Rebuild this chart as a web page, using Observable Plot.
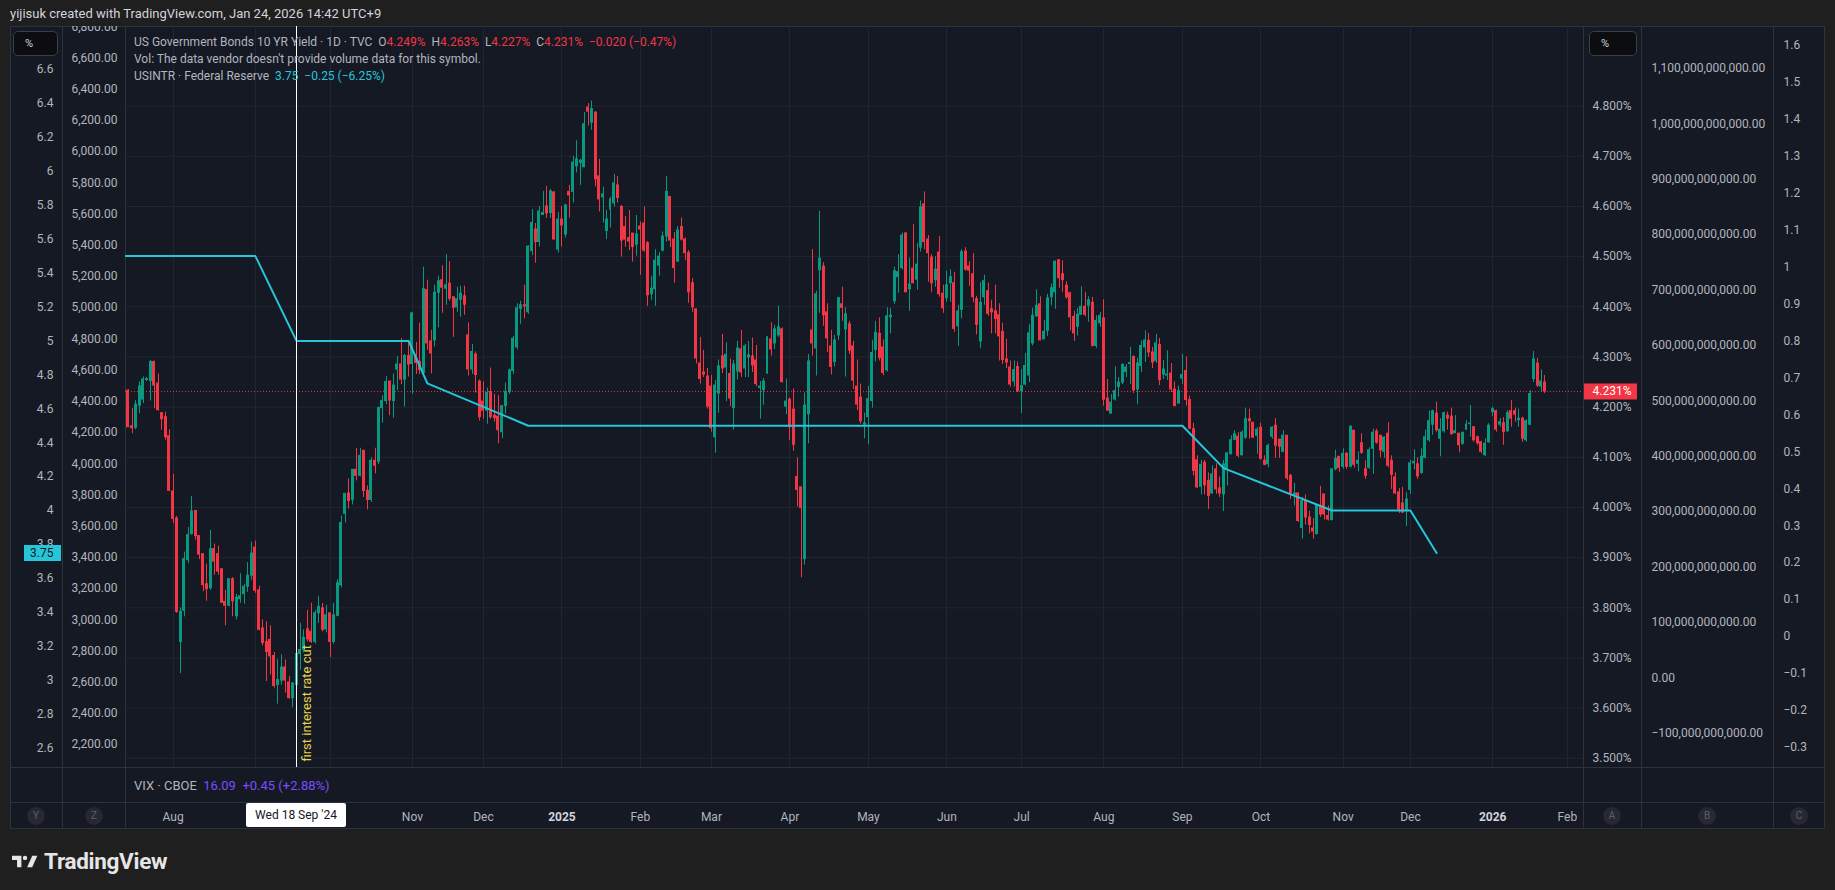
<!DOCTYPE html>
<html>
<head>
<meta charset="utf-8">
<script src="https://cdn.jsdelivr.net/npm/d3@7"></script>
<script src="https://cdn.jsdelivr.net/npm/@observablehq/plot@0.6"></script>
<style>
  html, body { margin: 0; padding: 0; background: #1f1f1f; }
  #root { position: relative; width: 1835px; height: 890px; overflow: hidden; font-family: Roboto, "Noto Sans", sans-serif; }
  .abs { position: absolute; }
  .frame { left: 10px; top: 26px; width: 1815px; height: 803px; background: #151924; box-sizing: border-box; border: 1px solid #2e323d; }
  .vdiv { width: 1px; top: 26px; height: 803px; background: #2e323d; }
  .hdiv { height: 1px; left: 10px; width: 1815px; background: #2e323d; }
  .hdr { left: 10px; top: 6px; font-size: 13px; color: #d1d4dc; white-space: nowrap; }
  .leg { left: 134px; font-size: 12px; color: #b2b5be; white-space: nowrap; line-height: 17px; }
  .red { color: #f23645; }
  .cy { color: #26c6da; }
  .vio { color: #7b4dff; }
  .pct { width: 45px; height: 25px; background: #0c0d10; border: 1px solid #3a3e48; border-radius: 5px; box-sizing: border-box; color: #d1d4dc; font-size: 11px; line-height: 23px; padding-left: 11px; }
  .circ { width: 18px; height: 18px; border-radius: 9px; background: #262932; color: #5d606b; font-size: 10px; line-height: 18px; text-align: center; }
  .tvlabel { background: #ffffff; color: #131722; font-size: 12px; text-align: center; line-height: 24px; height: 24px; border-radius: 2px; }
  .logo { left: 12px; top: 848px; color: #e6e6e6; font-size: 22.5px; font-weight: 700; letter-spacing: -0.3px; display: flex; align-items: center; gap: 6px; }
</style>
</head>
<body>
<div id="root"></div>
<script>
// ---------------- DATA ----------------
// US 10Y yield (TVC:US10Y), daily bars 2024-07-16 .. 2026-01-23
const open = [
  4.233,4.162,4.159,4.203,4.215,4.254,4.252,4.290,4.247,4.188,4.180,4.142,
  4.032,3.978,3.732,3.794,3.895,3.947,3.993,3.943,3.907,3.847,3.839,3.917,3.907,3.877,3.812,3.804,3.857,3.783,3.817,3.827,3.842,3.864,
  3.920,3.835,3.759,3.732,3.736,3.704,3.646,3.655,3.681,3.651,3.620,3.646,3.708,3.716,3.757,3.752,3.732,3.789,3.799,3.757,
  3.789,3.732,3.784,3.845,3.987,4.028,4.015,4.075,4.063,4.113,4.033,4.015,4.093,4.091,4.198,4.212,4.251,4.212,4.275,4.285,4.255,4.302,
  4.286,4.303,4.290,4.268,4.433,4.331,4.333,4.428,4.453,4.436,4.446,4.419,4.399,4.414,4.421,4.343,4.275,4.305,4.251,
  4.211,4.193,4.230,4.183,4.181,4.150,4.202,4.230,4.272,4.319,4.396,4.403,4.389,4.511,4.554,4.529,4.583,4.600,4.587,4.628,4.514,
  4.574,4.544,4.629,4.629,4.680,4.687,4.678,4.797,4.767,4.787,4.660,4.618,4.551,4.594,4.606,4.642,4.599,4.559,4.537,4.546,4.524,
  4.560,4.566,4.527,4.425,4.435,4.482,4.512,4.540,4.619,4.534,4.490,4.559,4.534,4.507,4.447,4.395,4.287,4.269,4.261,
  4.241,4.140,4.227,4.301,4.279,4.266,4.198,4.271,4.315,4.277,4.299,4.301,4.293,4.238,4.234,4.267,4.335,4.327,4.343,4.355,4.201,
  4.215,4.195,4.061,4.040,3.897,4.186,4.353,4.317,4.473,4.480,4.389,4.321,4.290,4.343,4.405,4.355,4.365,4.321,4.241,4.219,4.165,
  4.180,4.212,4.314,4.346,4.319,4.273,4.379,4.411,4.459,4.477,4.546,4.435,4.476,4.454,4.518,4.604,4.534,4.498,4.453,4.508,4.426,
  4.417,4.447,4.447,4.361,4.394,4.510,4.480,4.465,4.415,4.331,4.419,4.431,4.395,4.391,4.383,4.350,4.295,4.279,4.251,4.280,
  4.232,4.245,4.263,4.327,4.381,4.405,4.335,4.352,4.419,4.429,4.493,4.465,4.442,4.427,4.380,4.360,4.384,4.400,4.402,4.408,4.322,4.367,
  4.377,4.217,4.187,4.215,4.240,4.249,4.270,4.286,4.300,4.235,4.282,4.319,4.332,4.309,4.292,4.324,4.265,4.263,4.267,4.235,4.207,
  4.257,4.272,4.214,4.156,4.094,4.041,4.089,4.053,4.028,4.076,4.038,4.026,4.076,4.106,4.135,4.141,4.104,4.139,4.176,4.169,4.143,
  4.159,4.093,4.086,4.141,4.163,4.135,4.111,4.143,4.063,4.025,4.028,3.959,4.013,3.980,3.958,3.947,4.003,4.026,3.983,3.975,4.076,4.101,
  4.081,4.107,4.081,4.153,4.087,4.128,4.076,4.079,4.117,4.151,4.143,4.111,4.147,4.093,4.060,4.030,4.008,3.995,
  4.035,4.088,4.086,4.069,4.099,4.134,4.165,4.187,4.137,4.152,4.183,4.181,4.148,4.147,4.127,4.155,4.166,4.160,4.140,4.130,4.104,4.130,
  4.190,4.192,4.165,4.168,4.152,4.192,4.192,4.174,4.177,4.134,4.165,4.256,4.287,4.241,4.249
];
const high = [
  4.235,4.197,4.213,4.250,4.260,4.259,4.293,4.292,4.266,4.188,4.190,4.155,
  4.066,3.982,3.800,3.911,3.960,4.022,3.994,3.943,3.907,3.887,3.954,3.927,3.923,3.877,3.835,3.857,3.860,3.827,3.868,3.847,3.890,3.931,
  3.933,3.843,3.776,3.772,3.764,3.711,3.697,3.706,3.696,3.663,3.651,3.719,3.769,3.756,3.795,3.809,3.795,3.823,3.809,3.805,
  3.789,3.809,3.856,3.983,4.028,4.057,4.075,4.118,4.118,4.113,4.043,4.099,4.118,4.200,4.223,4.261,4.251,4.266,4.301,4.337,4.305,4.333,
  4.389,4.329,4.367,4.479,4.453,4.353,4.443,4.461,4.482,4.504,4.490,4.419,4.439,4.441,4.441,4.368,4.325,4.310,4.254,
  4.250,4.238,4.278,4.225,4.223,4.203,4.248,4.276,4.341,4.406,4.411,4.443,4.522,4.594,4.566,4.600,4.630,4.640,4.634,4.629,4.588,
  4.600,4.604,4.642,4.700,4.731,4.694,4.787,4.805,4.810,4.789,4.694,4.638,4.592,4.618,4.664,4.660,4.602,4.580,4.592,4.546,4.582,
  4.569,4.599,4.530,4.461,4.514,4.508,4.549,4.660,4.619,4.548,4.560,4.577,4.537,4.512,4.456,4.395,4.339,4.313,4.277,
  4.263,4.253,4.294,4.345,4.328,4.296,4.293,4.331,4.353,4.325,4.331,4.338,4.323,4.251,4.257,4.341,4.368,4.363,4.401,4.358,4.256,
  4.218,4.236,4.099,4.041,4.228,4.305,4.514,4.431,4.590,4.488,4.406,4.353,4.343,4.419,4.439,4.398,4.371,4.331,4.294,4.246,4.188,
  4.241,4.333,4.371,4.378,4.334,4.398,4.397,4.479,4.504,4.547,4.548,4.497,4.564,4.526,4.611,4.629,4.542,4.504,4.500,4.540,4.443,
  4.471,4.474,4.469,4.403,4.514,4.518,4.490,4.506,4.421,4.448,4.463,4.447,4.413,4.443,4.406,4.367,4.335,4.292,4.292,4.290,
  4.275,4.307,4.364,4.397,4.434,4.420,4.373,4.425,4.445,4.491,4.493,4.492,4.450,4.429,4.391,4.397,4.440,4.429,4.420,4.419,4.382,4.389,
  4.414,4.255,4.225,4.280,4.259,4.287,4.285,4.319,4.302,4.297,4.332,4.352,4.347,4.319,4.345,4.337,4.293,4.312,4.287,4.250,4.242,
  4.305,4.300,4.222,4.168,4.103,4.094,4.094,4.069,4.083,4.087,4.061,4.094,4.109,4.143,4.153,4.149,4.153,4.198,4.196,4.169,4.159,
  4.168,4.103,4.126,4.161,4.177,4.136,4.153,4.143,4.066,4.048,4.028,4.020,4.025,3.993,3.978,4.006,4.042,4.026,4.003,4.077,4.114,4.101,
  4.117,4.109,4.163,4.153,4.111,4.147,4.093,4.119,4.156,4.156,4.143,4.141,4.169,4.103,4.069,4.038,4.040,4.030,
  4.094,4.115,4.099,4.117,4.154,4.192,4.194,4.210,4.177,4.190,4.190,4.198,4.183,4.148,4.149,4.173,4.203,4.161,4.142,4.132,4.137,4.167,
  4.200,4.194,4.177,4.179,4.193,4.213,4.198,4.196,4.180,4.175,4.233,4.311,4.297,4.274,4.263
];
const low = [
  4.159,4.147,4.155,4.187,4.207,4.251,4.212,4.197,4.192,4.154,4.134,4.033,
  3.968,3.789,3.669,3.782,3.888,3.945,3.935,3.896,3.832,3.813,3.835,3.865,3.865,3.809,3.764,3.802,3.782,3.776,3.809,3.807,3.831,3.855,
  3.829,3.754,3.724,3.653,3.666,3.640,3.608,3.646,3.630,3.618,3.601,3.640,3.676,3.710,3.732,3.729,3.728,3.769,3.752,3.750,
  3.701,3.728,3.782,3.840,3.969,3.997,4.005,4.053,4.061,4.020,3.995,4.010,4.067,4.085,4.168,4.205,4.183,4.178,4.233,4.245,4.200,4.260,
  4.226,4.265,4.265,4.260,4.313,4.266,4.320,4.358,4.387,4.403,4.411,4.339,4.389,4.379,4.383,4.262,4.265,4.228,4.172,
  4.176,4.166,4.176,4.170,4.127,4.137,4.186,4.225,4.265,4.314,4.365,4.376,4.385,4.502,4.487,4.519,4.582,4.576,4.576,4.534,4.507,
  4.519,4.537,4.577,4.607,4.667,4.642,4.678,4.760,4.752,4.639,4.589,4.567,4.534,4.557,4.599,4.607,4.499,4.519,4.512,4.489,4.501,
  4.463,4.509,4.401,4.413,4.401,4.461,4.509,4.529,4.518,4.447,4.489,4.531,4.492,4.407,4.389,4.286,4.246,4.259,4.196,
  4.150,4.108,4.188,4.267,4.211,4.201,4.154,4.254,4.259,4.259,4.259,4.269,4.241,4.176,4.204,4.266,4.302,4.315,4.339,4.248,4.185,
  4.133,4.112,4.001,3.860,3.885,4.127,4.302,4.262,4.387,4.361,4.309,4.264,4.280,4.333,4.371,4.260,4.305,4.235,4.193,4.166,4.137,
  4.125,4.198,4.290,4.292,4.263,4.270,4.346,4.405,4.427,4.473,4.428,4.391,4.446,4.433,4.509,4.514,4.449,4.429,4.439,4.419,4.387,
  4.409,4.409,4.349,4.321,4.376,4.471,4.441,4.408,4.344,4.317,4.403,4.381,4.346,4.346,4.292,4.285,4.277,4.240,4.240,4.229,
  4.187,4.242,4.249,4.322,4.379,4.332,4.335,4.341,4.402,4.395,4.437,4.429,4.415,4.352,4.331,4.342,4.384,4.380,4.369,4.320,4.317,4.359,
  4.202,4.192,4.187,4.212,4.220,4.245,4.259,4.245,4.227,4.205,4.269,4.289,4.299,4.277,4.287,4.243,4.255,4.253,4.229,4.202,4.207,
  4.245,4.202,4.155,4.063,4.038,4.025,4.025,3.996,4.026,4.026,4.020,3.992,4.043,4.105,4.133,4.099,4.103,4.136,4.136,4.138,4.106,
  4.094,4.083,4.079,4.136,4.098,4.098,4.109,4.054,4.016,4.003,3.970,3.937,3.965,3.947,3.937,3.945,3.980,3.975,3.973,3.973,4.073,4.070,
  4.076,4.076,4.079,4.079,4.071,4.106,4.056,4.076,4.066,4.126,4.099,4.098,4.079,4.036,4.026,3.988,3.988,3.962,
  4.026,4.075,4.056,4.066,4.097,4.130,4.144,4.150,4.101,4.148,4.154,4.144,4.147,4.109,4.124,4.154,4.140,4.130,4.124,4.107,4.102,4.128,
  4.181,4.150,4.160,4.124,4.150,4.160,4.170,4.160,4.130,4.130,4.163,4.249,4.239,4.231,4.227
];
const close = [
  4.160,4.158,4.205,4.241,4.255,4.256,4.290,4.243,4.194,4.176,4.140,4.033,
  3.977,3.792,3.792,3.897,3.945,3.992,3.943,3.906,3.845,3.837,3.917,3.892,3.872,3.810,3.804,3.857,3.813,3.820,3.823,3.842,3.864,3.908,
  3.834,3.756,3.730,3.712,3.703,3.644,3.656,3.681,3.655,3.620,3.649,3.708,3.716,3.740,3.737,3.732,3.789,3.802,3.756,3.785,
  3.732,3.785,3.849,3.969,4.027,4.013,4.075,4.063,4.103,4.033,4.015,4.093,4.083,4.198,4.212,4.250,4.213,4.243,4.285,4.255,4.302,4.285,
  4.387,4.288,4.274,4.435,4.327,4.307,4.428,4.451,4.438,4.443,4.416,4.398,4.415,4.426,4.404,4.275,4.310,4.264,4.180,
  4.193,4.228,4.180,4.178,4.154,4.202,4.230,4.273,4.336,4.397,4.403,4.401,4.520,4.567,4.529,4.590,4.587,4.586,4.630,4.534,4.574,
  4.562,4.602,4.622,4.687,4.694,4.691,4.764,4.789,4.794,4.654,4.614,4.624,4.574,4.614,4.646,4.617,4.532,4.534,4.530,4.519,4.544,
  4.554,4.512,4.423,4.436,4.492,4.500,4.540,4.629,4.532,4.477,4.552,4.534,4.507,4.429,4.399,4.297,4.256,4.265,4.201,
  4.158,4.243,4.281,4.277,4.304,4.217,4.285,4.317,4.269,4.321,4.303,4.283,4.246,4.241,4.251,4.339,4.315,4.355,4.359,4.250,4.211,
  4.160,4.125,4.035,3.999,4.203,4.291,4.327,4.425,4.496,4.383,4.337,4.280,4.333,4.417,4.398,4.385,4.313,4.253,4.205,4.172,4.168,
  4.216,4.308,4.348,4.298,4.268,4.381,4.382,4.471,4.469,4.542,4.429,4.444,4.447,4.484,4.598,4.529,4.507,4.447,4.474,4.425,4.397,
  4.443,4.459,4.356,4.391,4.509,4.474,4.472,4.419,4.364,4.408,4.451,4.386,4.389,4.376,4.341,4.294,4.289,4.245,4.274,4.232,
  4.242,4.282,4.347,4.382,4.402,4.333,4.350,4.417,4.437,4.490,4.457,4.453,4.419,4.379,4.347,4.384,4.400,4.384,4.413,4.322,4.372,4.382,
  4.215,4.193,4.209,4.232,4.249,4.284,4.279,4.288,4.233,4.287,4.322,4.333,4.309,4.289,4.327,4.254,4.275,4.265,4.235,4.202,4.232,
  4.264,4.214,4.157,4.073,4.040,4.085,4.044,4.023,4.066,4.036,4.028,4.086,4.108,4.134,4.146,4.103,4.149,4.176,4.172,4.139,4.155,
  4.097,4.085,4.123,4.159,4.123,4.121,4.143,4.058,4.028,4.028,3.973,4.013,3.980,3.965,3.952,4.004,3.986,3.986,3.976,4.076,4.097,4.079,
  4.107,4.081,4.161,4.085,4.093,4.109,4.063,4.114,4.149,4.129,4.114,4.139,4.083,4.065,4.028,3.996,3.990,4.016,
  4.088,4.091,4.062,4.101,4.140,4.172,4.192,4.154,4.155,4.188,4.177,4.146,4.152,4.124,4.149,4.165,4.167,4.134,4.128,4.111,4.127,4.163,
  4.196,4.155,4.170,4.150,4.188,4.177,4.185,4.177,4.137,4.172,4.226,4.295,4.243,4.251,4.231
];

// Federal Reserve rate (USINTR) points
const fedDates = ["2024-07-01","2024-09-03","2024-09-18","2024-10-31","2024-11-07","2024-12-18","2025-09-02","2025-09-17","2025-10-29","2025-12-01","2025-12-10"];
const fedRates = [5.5, 5.5, 5.0, 5.0, 4.75, 4.5, 4.5, 4.25, 4.0, 4.0, 3.75];

// market holidays (no bars)
const holidays = ["2024-07-04","2024-09-02","2024-10-14","2024-11-11","2024-11-28","2024-12-25","2025-01-01","2025-01-20","2025-02-17","2025-04-18","2025-05-26","2025-06-19","2025-07-04","2025-09-01","2025-10-13","2025-11-11","2025-11-27","2025-12-25","2026-01-01","2026-01-19"];
const firstBar = "2024-07-16";
const eventDate = "2024-09-18";
const eventText = "first interest rate cut";
const eventLabel = "Wed 18 Sep '24";
const monthNames = ["Jan","Feb","Mar","Apr","May","Jun","Jul","Aug","Sep","Oct","Nov","Dec"];

// axis tick labels
const yieldTicks = [3.5,3.6,3.7,3.8,3.9,4.0,4.1,4.2,4.3,4.4,4.5,4.6,4.7,4.8];
const fedTicks = [2.6,2.8,3,3.2,3.4,3.6,3.8,4,4.2,4.4,4.6,4.8,5,5.2,5.4,5.6,5.8,6,6.2,6.4,6.6];
const leftTicks2 = [2200,2400,2600,2800,3000,3200,3400,3600,3800,4000,4200,4400,4600,4800,5000,5200,5400,5600,5800,6000,6200,6400,6600,6800];
const rightTicks2 = [-100e9,0,100e9,200e9,300e9,400e9,500e9,600e9,700e9,800e9,900e9,1000e9,1100e9];
const rightTicks3 = [-0.3,-0.2,-0.1,0,0.1,0.2,0.3,0.4,0.5,0.6,0.7,0.8,0.9,1,1.1,1.2,1.3,1.4,1.5,1.6];

// ---------------- BUILD ----------------
function tradingDays(from, to) {
  const out = [];
  const d = new Date(from + "T00:00:00Z"), end = new Date(to + "T00:00:00Z");
  while (d <= end) {
    const w = d.getUTCDay(), s = d.toISOString().slice(0, 10);
    if (w > 0 && w < 6 && !holidays.includes(s)) out.push(s);
    d.setUTCDate(d.getUTCDate() + 1);
  }
  return out;
}
const days = tradingDays("2024-07-01", "2026-02-27");
const base = days.indexOf(firstBar);
const idx = s => days.indexOf(s) - base;

const candles = close.map((c, k) => ({i: k, o: open[k], h: high[k], l: low[k], c}));
const fedPts = fedDates.map((s, k) => ({i: idx(s), v: fedRates[k]}));
const last = candles[candles.length - 1];

const monthTicks = [];
for (let k = 1; k < days.length; k++) {
  if (days[k].slice(0, 7) !== days[k - 1].slice(0, 7)) {
    const m = +days[k].slice(5, 7);
    monthTicks.push({i: k - base, label: m === 1 ? days[k].slice(0, 4) : monthNames[m - 1], year: m === 1});
  }
}

const UP = "#089981", DOWN = "#f23645", FED = "#26c6da", GRID = "#222633";
const PL = 125, PT = 26, W = 1458, H = 741;
const xDom = [-0.749, 389.3];
const yDom = [3.4817, 4.9587];
const fedDom = [2.485, 6.8535];
const inDom = d => d.i >= xDom[0] && d.i <= xDom[1];
const svgStyle = {background: "transparent", color: "#b2b5be", fontFamily: "Roboto, sans-serif", fontSize: "12px"};

const root = document.getElementById("root");
function el(cls, css, html) {
  const e = document.createElement("div");
  e.className = "abs " + cls;
  Object.assign(e.style, css || {});
  if (html != null) e.innerHTML = html;
  root.appendChild(e);
  return e;
}
function place(node, left, top) {
  node.style.position = "absolute";
  node.style.left = left + "px";
  node.style.top = top + "px";
  root.appendChild(node);
  return node;
}

// frame + dividers
el("frame");
[62, 125, 1583, 1641, 1773].forEach(x => el("vdiv", {left: x + "px"}));
[767, 802].forEach(y => el("hdiv", {top: y + "px"}));

// header
el("hdr", {}, "yijisuk created with TradingView.com, Jan 24, 2026 14:42 UTC+9");

// main candles
const main = Plot.plot({
  width: W, height: H, margin: 0,
  x: {domain: xDom, axis: null, round: true},
  y: {domain: yDom, axis: null},
  color: {type: "identity"},
  style: svgStyle,
  marks: [
    Plot.ruleX(monthTicks.filter(inDom), {x: "i", stroke: GRID}),
    Plot.ruleY(yieldTicks, {y: d => d, stroke: GRID}),
    Plot.ruleX(candles, {x: "i", y1: "l", y2: "h", stroke: d => d.c >= d.o ? UP : DOWN, strokeWidth: 1}),
    Plot.rect(candles, {x1: d => d.i - 0.4, x2: d => d.i + 0.4, y1: "o", y2: "c", fill: d => d.c >= d.o ? UP : DOWN, insetTop: -0.5, insetBottom: -0.5}),
    Plot.ruleY([last.c], {y: d => d, stroke: DOWN, strokeDasharray: "1,2"})
  ]
});
place(main, PL, PT);

// Fed funds line (own scale, left axis)
const fed = Plot.plot({
  width: W, height: H, margin: 0,
  x: {domain: xDom, axis: null},
  y: {domain: fedDom, axis: null},
  style: svgStyle,
  marks: [Plot.line(fedPts, {x: "i", y: "v", stroke: FED, strokeWidth: 2, clip: true})]
});
place(fed, PL, PT);

// vertical line annotation
const ann = Plot.plot({
  width: W, height: H, margin: 0,
  x: {domain: xDom, axis: null, round: true},
  y: {domain: yDom, axis: null},
  style: svgStyle,
  marks: [
    Plot.ruleX([idx(eventDate)], {x: d => d, stroke: "#ffffff", strokeWidth: 1}),
    Plot.text([eventText], {x: idx(eventDate), frameAnchor: "bottom", rotate: -90, textAnchor: "start", lineAnchor: "top", dx: 5, dy: -6, fill: "#e8d44d", fontSize: 13, text: d => d})
  ]
});
place(ann, PL, PT);

// legend
el("leg", {top: "34px"}, 'US Government Bonds 10 YR Yield · 1D · TVC&nbsp;&nbsp;O<span class="red">4.249%</span>&nbsp;&nbsp;H<span class="red">4.263%</span>&nbsp;&nbsp;L<span class="red">4.227%</span>&nbsp;&nbsp;C<span class="red">4.231%</span>&nbsp;&nbsp;<span class="red">−0.020 (−0.47%)</span>');
el("leg", {top: "51px"}, "Vol: The data vendor doesn't provide volume data for this symbol.");
el("leg", {top: "68px"}, 'USINTR · Federal Reserve&nbsp;&nbsp;<span class="cy">3.75</span>&nbsp;&nbsp;<span class="cy">−0.25 (−6.25%)</span>');

// axis columns
function axisCol(width, domain, ticks, fmt, alignStart, labelX, extra) {
  const m = alignStart ? {marginLeft: 0, marginRight: width - labelX} : {marginLeft: labelX, marginRight: 0};
  return Plot.plot({
    width, height: H, marginTop: 0, marginBottom: 0, ...m,
    y: {domain, axis: null},
    style: svgStyle,
    marks: [Plot.axisY({ticks, anchor: alignStart ? "right" : "left", tickSize: 0, tickPadding: 0, tickFormat: fmt, label: null, fill: "#b2b5be"}), ...(extra || [])]
  });
}
const f1 = d => String(+d.toFixed(1)).replace("-", "−");
// left col A : Fed rate scale, with 3.75 badge
place(axisCol(52, fedDom, fedTicks, f1, false, 43, [
  Plot.tickY([fedRates[fedRates.length - 1]], {y: d => d, stroke: FED, strokeWidth: 16, insetLeft: -29, insetRight: 1}),
  Plot.text([fedRates[fedRates.length - 1]], {y: d => d, text: d => d.toFixed(2), frameAnchor: "left", textAnchor: "end", fill: "#131722", fontSize: 12})
]), 10, PT);
// left col B
place(axisCol(63, [2052.6, 6801.9], leftTicks2, d3.format(",.2f"), false, 55), 62, PT);
// right col 1 : yield
place(axisCol(58, yDom, yieldTicks, d => d.toFixed(3) + "%", true, 9, [
  Plot.tickY([last.c], {y: d => d, stroke: DOWN, strokeWidth: 16, insetLeft: 1, insetRight: -45}),
  Plot.text([last.c], {y: d => d, text: d => d.toFixed(3) + "%", frameAnchor: "right", textAnchor: "start", fill: "#ffffff", fontSize: 12})
]), 1583, PT);
// right col 2
place(axisCol(132, [-162.1e9, 1175.6e9], rightTicks2, d3.format(",.2f"), true, 10), 1641, PT);
// right col 3
place(axisCol(52, [-0.354, 1.650], rightTicks3, f1, true, 10), 1773, PT);

// % buttons
el("pct", {left: "13px", top: "31px"}, "%");
el("pct", {left: "1589px", top: "31px", width: "48px"}, "%");

// VIX pane legend
el("leg", {top: "777px", fontSize: "13px"}, 'VIX · CBOE&nbsp;&nbsp;<span class="vio">16.09</span>&nbsp;&nbsp;<span class="vio">+0.45 (+2.88%)</span>');

// time axis (month labels hidden under the event's time label, as in TradingView)
const evI = idx(eventDate);
const xPerBar = W / (xDom[1] - xDom[0]);
const visibleMonth = d => inDom(d) && Math.abs(d.i - evI) * xPerBar > 58;
const timeAxis = Plot.plot({
  width: W, height: 27, margin: 0,
  x: {domain: xDom, axis: null},
  y: {domain: [0, 1], axis: null},
  style: svgStyle,
  marks: [
    Plot.text(monthTicks.filter(d => visibleMonth(d) && !d.year), {x: "i", text: "label", frameAnchor: "middle", dy: 1, fill: "#b2b5be", fontSize: 12}),
    Plot.text(monthTicks.filter(d => visibleMonth(d) && d.year), {x: "i", text: "label", frameAnchor: "middle", dy: 1, fill: "#d1d4dc", fontSize: 12, fontWeight: "bold"})
  ]
});
place(timeAxis, PL, 802);
const ex = PL + timeAxis.scale("x").apply(evI);
el("tvlabel", {left: (ex - 50) + "px", top: "803px", width: "100px"}, eventLabel);

// axis buttons
[["Y", 36], ["Z", 94], ["A", 1612], ["B", 1707], ["C", 1799]].forEach(([t, x]) => el("circ", {left: (x - 9) + "px", top: "807px"}, t));

// logo
el("logo", {}, '<svg width="26" height="17" viewBox="0 0 36 18"><path d="M0 1 H13 V17 H7 V7 H0 Z" fill="#e6e6e6"/><circle cx="18" cy="4" r="3" fill="#e6e6e6"/><path d="M21 17 L28 1 H35 L28 17 Z" fill="#e6e6e6"/></svg><span>TradingView</span>');
</script>
</body>
</html>
